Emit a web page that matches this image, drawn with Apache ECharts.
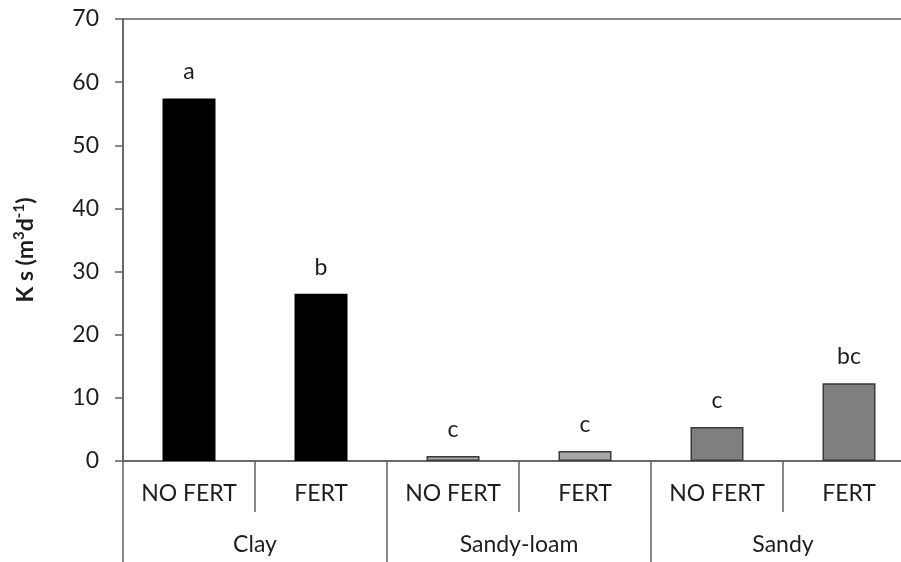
<!DOCTYPE html>
<html>
<head>
<meta charset="utf-8">
<script src="https://cdn.jsdelivr.net/npm/echarts@6/dist/echarts.min.js"></script>
<style>
  html, body { margin: 0; padding: 0; background: #fff; }
  #chart { width: 901px; height: 562px; }
</style>
</head>
<body>
<div id="chart"></div>
<script>
// Treatments (inner axis level) and soil types (outer axis level)
const treatments = ['NO FERT', 'FERT', 'NO FERT', 'FERT', 'NO FERT', 'FERT'];
const soils = ['Clay', 'Sandy-loam', 'Sandy'];
// Saturated hydraulic conductivity per bar
const ksValues = [57.4, 26.5, 0.8, 1.6, 5.4, 12.3];
// Significance letters above each bar
const letters = ['a', 'b', 'c', 'c', 'c', 'bc'];
// Y axis ticks
const yMin = 0, yMax = 70, yStep = 10;

const soilColors = ['#000000', '#a6a6a6', '#7f7f7f'];
const axisColor = '#606060';
const textColor = '#1e1e1e';
const font = 'Lato, "Open Sans", sans-serif';

const barData = ksValues.map((v, i) => {
  const c = soilColors[Math.floor(i / 2)];
  return {
    value: v,
    itemStyle: {
      color: c,
      borderColor: i < 2 ? '#000' : '#3a3a3a',
      borderWidth: i < 2 ? 0 : 1.5
    },
    label: { formatter: letters[i] }
  };
});

const chart = echarts.init(document.getElementById('chart'));
chart.setOption({
  animation: false,
  backgroundColor: '#fff',
  grid: {
    left: 123, top: 19, width: 792, height: 442,
    containLabel: false,
    outerBoundsMode: 'none',
    show: true, borderColor: axisColor, borderWidth: 1.5,
    backgroundColor: 'transparent'
  },
  xAxis: [
    {
      type: 'category',
      data: treatments,
      position: 'bottom',
      boundaryGap: true,
      axisLine: { show: true, lineStyle: { color: axisColor, width: 1.5 } },
      axisTick: { show: true, interval: 0, length: 51, lineStyle: { color: axisColor, width: 1.5 } },
      axisLabel: { interval: 0, margin: 21, color: textColor, fontFamily: font, fontSize: 23, lineHeight: 23 },
      splitLine: { show: false }
    },
    {
      type: 'category',
      data: soils,
      position: 'bottom',
      boundaryGap: true,
      axisLine: { show: false },
      axisTick: { show: true, interval: 0, length: 101, lineStyle: { color: axisColor, width: 1.5 } },
      axisLabel: { interval: 0, margin: 72, color: textColor, fontFamily: font, fontSize: 23, lineHeight: 23 },
      splitLine: { show: false }
    }
  ],
  yAxis: {
    type: 'value',
    min: yMin, max: yMax, interval: yStep,
    axisLine: { show: true, lineStyle: { color: axisColor, width: 1.5 } },
    axisTick: { show: true, length: 8, lineStyle: { color: axisColor, width: 1.5 } },
    axisLabel: { margin: 24, color: textColor, fontFamily: font, fontSize: 23 },
    splitLine: { show: false }
  },
  graphic: [{
    type: 'text',
    x: 26, y: 250,
    rotation: Math.PI / 2,
    style: {
      text: '{t|K s (m}{s|3}{t|d}{s|-1}{t|)}',
      align: 'center',
      verticalAlign: 'middle',
      rich: {
        t: { fontFamily: font, fontWeight: 'bold', fontSize: 23, fill: textColor, lineHeight: 28 },
        s: { fontFamily: font, fontWeight: 'bold', fontSize: 15, fill: textColor, verticalAlign: 'top', lineHeight: 28, padding: [0, 0, 10, 0] }
      }
    }
  }],
  series: [{
    type: 'bar',
    xAxisIndex: 0,
    data: barData,
    barWidth: 53,
    label: {
      show: true,
      position: 'top',
      distance: 15,
      color: textColor,
      fontFamily: font,
      fontSize: 23
    }
  }]
});
</script>
</body>
</html>
